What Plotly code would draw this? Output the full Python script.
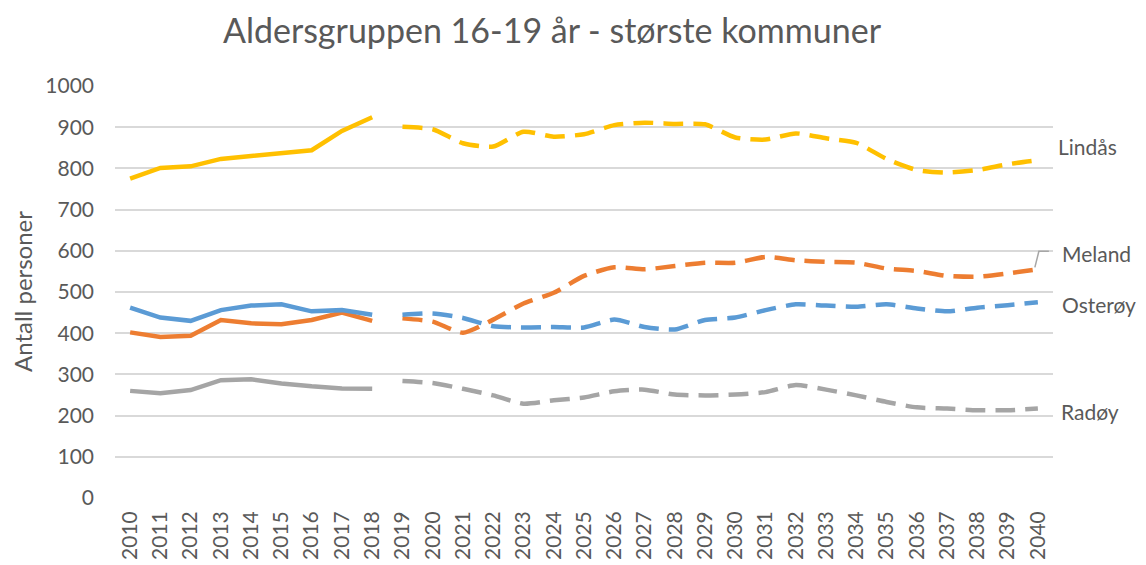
import plotly.graph_objects as go

years_hist = [str(y) for y in range(2010, 2019)]
years_proj = [str(y) for y in range(2019, 2041)]
all_years = years_hist + years_proj

lindas_hist = [775, 801, 805, 823, 830, 836, 844, 891, 924]
lindas_proj = [901, 895, 861, 853, 889, 877, 883, 905, 911, 908, 907, 875, 870, 885, 873, 862, 823, 796, 790, 796, 810, 820]

meland_hist = [402, 391, 394, 432, 424, 422, 432, 450, 430]
meland_proj = [436, 428, 401, 433, 472, 498, 539, 560, 555, 563, 571, 571, 585, 577, 573, 571, 557, 551, 539, 537, 545, 555]

osteroy_hist = [462, 438, 430, 456, 467, 470, 453, 456, 445]
osteroy_proj = [445, 448, 437, 417, 414, 415, 414, 433, 415, 409, 432, 438, 456, 470, 467, 464, 470, 460, 453, 462, 468, 475]

radoy_hist = [260, 254, 262, 286, 288, 278, 271, 266, 265]
radoy_proj = [284, 279, 265, 249, 229, 237, 244, 259, 263, 251, 249, 251, 257, 274, 263, 249, 233, 220, 217, 213, 213, 217]

names = ["Lindås", "Meland", "Osterøy", "Radøy"]
colors = ["#FFC000", "#ED7D31", "#5B9BD5", "#A5A5A5"]
hist = [lindas_hist, meland_hist, osteroy_hist, radoy_hist]
proj = [lindas_proj, meland_proj, osteroy_proj, radoy_proj]
label_y = [854, 594, 470, 210]
label_shift = [18, 22, 22, 21]

y_ticks = list(range(0, 1001, 100))

FONT = "Lato, 'Open Sans', sans-serif"
TXT = "#595959"

W, H = 1138, 557  # page body has an 8px margin
ML, MR, MT, MB = 107, 93, 78, 67

fig = go.Figure()
order = [3, 1, 2, 0]
for i in order:
    fig.add_trace(go.Scatter(x=years_hist, y=hist[i], mode="lines", name=names[i],
                             line=dict(color=colors[i], width=4.5), showlegend=False))
    fig.add_trace(go.Scatter(x=years_proj, y=proj[i], mode="lines", name=names[i] + " prognose",
                             line=dict(color=colors[i], width=4.5, dash="20px,10px",
                                       shape="spline", smoothing=0.6), showlegend=False))

last_idx = len(all_years) - 1
annotations = []
for i in range(4):
    annotations.append(dict(x=last_idx, y=label_y[i], xref="x", yref="y", text=names[i],
                            showarrow=False, xanchor="left", yanchor="middle",
                            xshift=label_shift[i], font=dict(family=FONT, size=21, color=TXT)))
annotations.append(dict(x=0, y=0.5, xref="paper", yref="paper", text="Antall personer",
                        textangle=-90, showarrow=False, xanchor="center", yanchor="middle",
                        xshift=-93, font=dict(family=FONT, size=24, color=TXT)))
annotations.append(dict(x=(544 - ML) / (W - ML - MR), y=1, xref="paper", yref="paper",
                        text="Aldersgruppen 16-19 år - største kommuner", showarrow=False,
                        xanchor="center", yanchor="middle", yshift=MT - 21,
                        font=dict(family=FONT, size=34, color=TXT)))

fig.add_shape(type="path", xref="x", yref="y", xsizemode="pixel", ysizemode="pixel",
              xanchor=last_idx, yanchor=meland_proj[-1],
              path="M -3,2 L 1,18 L 11,18", line=dict(color="#A6A6A6", width=1.5))

fig.update_layout(
    width=W, height=H,
    margin=dict(l=ML, r=MR, t=MT, b=MB),
    paper_bgcolor="white", plot_bgcolor="white",
    annotations=annotations,
    xaxis=dict(type="category", categoryorder="array", categoryarray=all_years,
               range=[-0.5, len(all_years) - 0.5], tickangle=-90, showgrid=False,
               showline=False, zeroline=False, ticks="", ticklabelstandoff=8,
               tickfont=dict(family=FONT, size=21, color=TXT), automargin=False),
    yaxis=dict(range=[0, 1000], tickvals=y_ticks, showgrid=True, gridcolor="#D9D9D9",
               gridwidth=1.5, zeroline=False, showline=False, ticks="",
               ticklabelstandoff=20, tickfont=dict(family=FONT, size=21, color=TXT),
               automargin=False),
)

fig.write_html("out.html")
